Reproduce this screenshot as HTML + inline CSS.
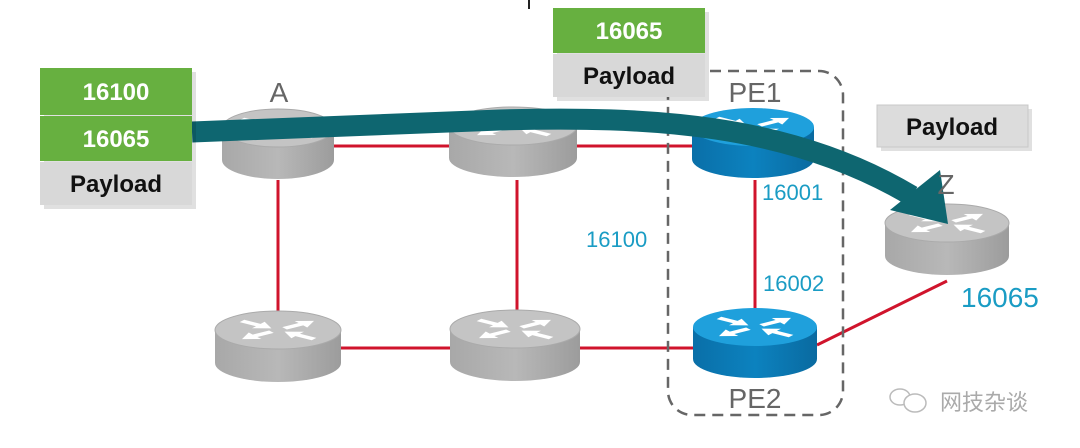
<!DOCTYPE html>
<html><head><meta charset="utf-8"><style>
html,body{margin:0;padding:0;background:#fff;width:1080px;height:448px;overflow:hidden}
svg{display:block}
text{font-family:"Liberation Sans",Arial,sans-serif}
</style></head><body>
<svg width="1080" height="448" viewBox="0 0 1080 448">
<defs>
<linearGradient id="gg" x1="0" x2="1"><stop offset="0" stop-color="#a8a8a8"/><stop offset="0.5" stop-color="#b8b8b8"/><stop offset="1" stop-color="#9c9c9c"/></linearGradient>
<linearGradient id="bg" x1="0" x2="1"><stop offset="0" stop-color="#0a6fa8"/><stop offset="0.5" stop-color="#0c82bf"/><stop offset="1" stop-color="#0a6aa0"/></linearGradient>
<g id="arr" transform="scale(1,0.36)">
<polygon transform="rotate(-35)" points="8,-4 28,-4 28,-11 44,0 28,11 28,4 8,4" fill="#fff"/>
<polygon transform="rotate(145)" points="8,-4 28,-4 28,-11 44,0 28,11 28,4 8,4" fill="#fff"/>
<polygon transform="rotate(35)" points="44,-4 24,-4 24,-11 8,0 24,11 24,4 44,4" fill="#fff"/>
<polygon transform="rotate(215)" points="44,-4 24,-4 24,-11 8,0 24,11 24,4 44,4" fill="#fff"/>
</g>
</defs>
<rect x="528" y="0" width="2" height="9" fill="#222"/>
<g stroke="#d0142c" stroke-width="3" fill="none">
<line x1="333" y1="146" x2="450" y2="146"/>
<line x1="577" y1="146" x2="692" y2="146"/>
<line x1="278" y1="180" x2="278" y2="312"/>
<line x1="517" y1="180" x2="517" y2="312"/>
<line x1="755" y1="180" x2="755" y2="310"/>
<line x1="340" y1="348" x2="452" y2="348"/>
<line x1="580" y1="348" x2="693" y2="348"/>
<line x1="817" y1="345" x2="947" y2="281"/>
<line x1="815" y1="150" x2="945" y2="205"/>
</g>
<rect x="668" y="71" width="175" height="344" rx="24" fill="none" stroke="#666" stroke-width="2.5" stroke-dasharray="11,7"/>
<g>
<g transform="translate(278,128)"><path d="M-56,0 v32 a56,19 0 0 0 112,0 v-32z" fill="url(#gg)"/><ellipse rx="56" ry="19" fill="#c4c4c4" stroke="#aaa"/><use href="#arr"/></g>
<g transform="translate(513,126)"><path d="M-64,0 v32 a64,19 0 0 0 128,0 v-32z" fill="url(#gg)"/><ellipse rx="64" ry="19" fill="#c4c4c4" stroke="#aaa"/><use href="#arr"/></g>
<g transform="translate(753,127)"><path d="M-61,0 v32 a61,19 0 0 0 122,0 v-32z" fill="url(#bg)"/><ellipse rx="61" ry="19" fill="#1fa0dc"/><use href="#arr"/></g>
<g transform="translate(947,223)"><path d="M-62,0 v33 a62,19 0 0 0 124,0 v-33z" fill="url(#gg)"/><ellipse rx="62" ry="19" fill="#c4c4c4" stroke="#aaa"/><use href="#arr"/></g>
<g transform="translate(278,330)"><path d="M-63,0 v33 a63,19 0 0 0 126,0 v-33z" fill="url(#gg)"/><ellipse rx="63" ry="19" fill="#c4c4c4" stroke="#aaa"/><use href="#arr"/></g>
<g transform="translate(515,329)"><path d="M-65,0 v33 a65,19 0 0 0 130,0 v-33z" fill="url(#gg)"/><ellipse rx="65" ry="19" fill="#c4c4c4" stroke="#aaa"/><use href="#arr"/></g>
<g transform="translate(755,327)"><path d="M-62,0 v32 a62,19 0 0 0 124,0 v-32z" fill="url(#bg)"/><ellipse rx="62" ry="19" fill="#1fa0dc"/><use href="#arr"/></g>
</g>
<path d="M192,132 L500,120 C650,116 790,123 912,196" fill="none" stroke="#0e6670" stroke-width="21"/>
<polygon points="890,210 948,224 940,170" fill="#0e6670"/>
<g fill="#666" font-size="28" text-anchor="middle">
<text x="279" y="102">A</text>
<text x="755" y="102">PE1</text>
<text x="755" y="408">PE2</text>
<text x="946" y="194">Z</text>
</g>
<g fill="#1a9cc4" font-size="22">
<text x="762" y="200">16001</text>
<text x="586" y="247">16100</text>
<text x="763" y="291">16002</text>
<text x="961" y="307" font-size="28">16065</text>
</g>
<g font-weight="bold" font-size="24" text-anchor="middle">
<rect x="44" y="72" width="152" height="137" fill="#000" opacity="0.12"/>
<rect x="40" y="68" width="152" height="47" fill="#67b040"/>
<rect x="40" y="116" width="152" height="45" fill="#67b040"/>
<rect x="40" y="162" width="152" height="43" fill="#d8d8d8"/>
<text x="116" y="100" fill="#fff">16100</text>
<text x="116" y="147" fill="#fff">16065</text>
<text x="116" y="192" fill="#111">Payload</text>
<rect x="557" y="12" width="152" height="89" fill="#000" opacity="0.12"/>
<rect x="553" y="8" width="152" height="45" fill="#67b040"/>
<rect x="553" y="54" width="152" height="43" fill="#d8d8d8"/>
<text x="629" y="39" fill="#fff">16065</text>
<text x="629" y="84" fill="#111">Payload</text>
<rect x="881" y="109" width="151" height="42" fill="#000" opacity="0.12"/>
<rect x="877" y="105" width="151" height="42" fill="#dcdcdc" stroke="#c8c8c8"/>
<text x="952" y="135" fill="#111">Payload</text>
</g>
<g fill="none" stroke="#bbb" stroke-width="1.5">
<ellipse cx="900" cy="397" rx="10" ry="8"/>
<ellipse cx="915" cy="403" rx="11" ry="9" fill="#fff"/>
</g>
<text x="940" y="410" font-size="22" fill="#aaa" style="font-family:'Liberation Sans','Noto Sans CJK SC',sans-serif">网技杂谈</text>
</svg>
</body></html>
